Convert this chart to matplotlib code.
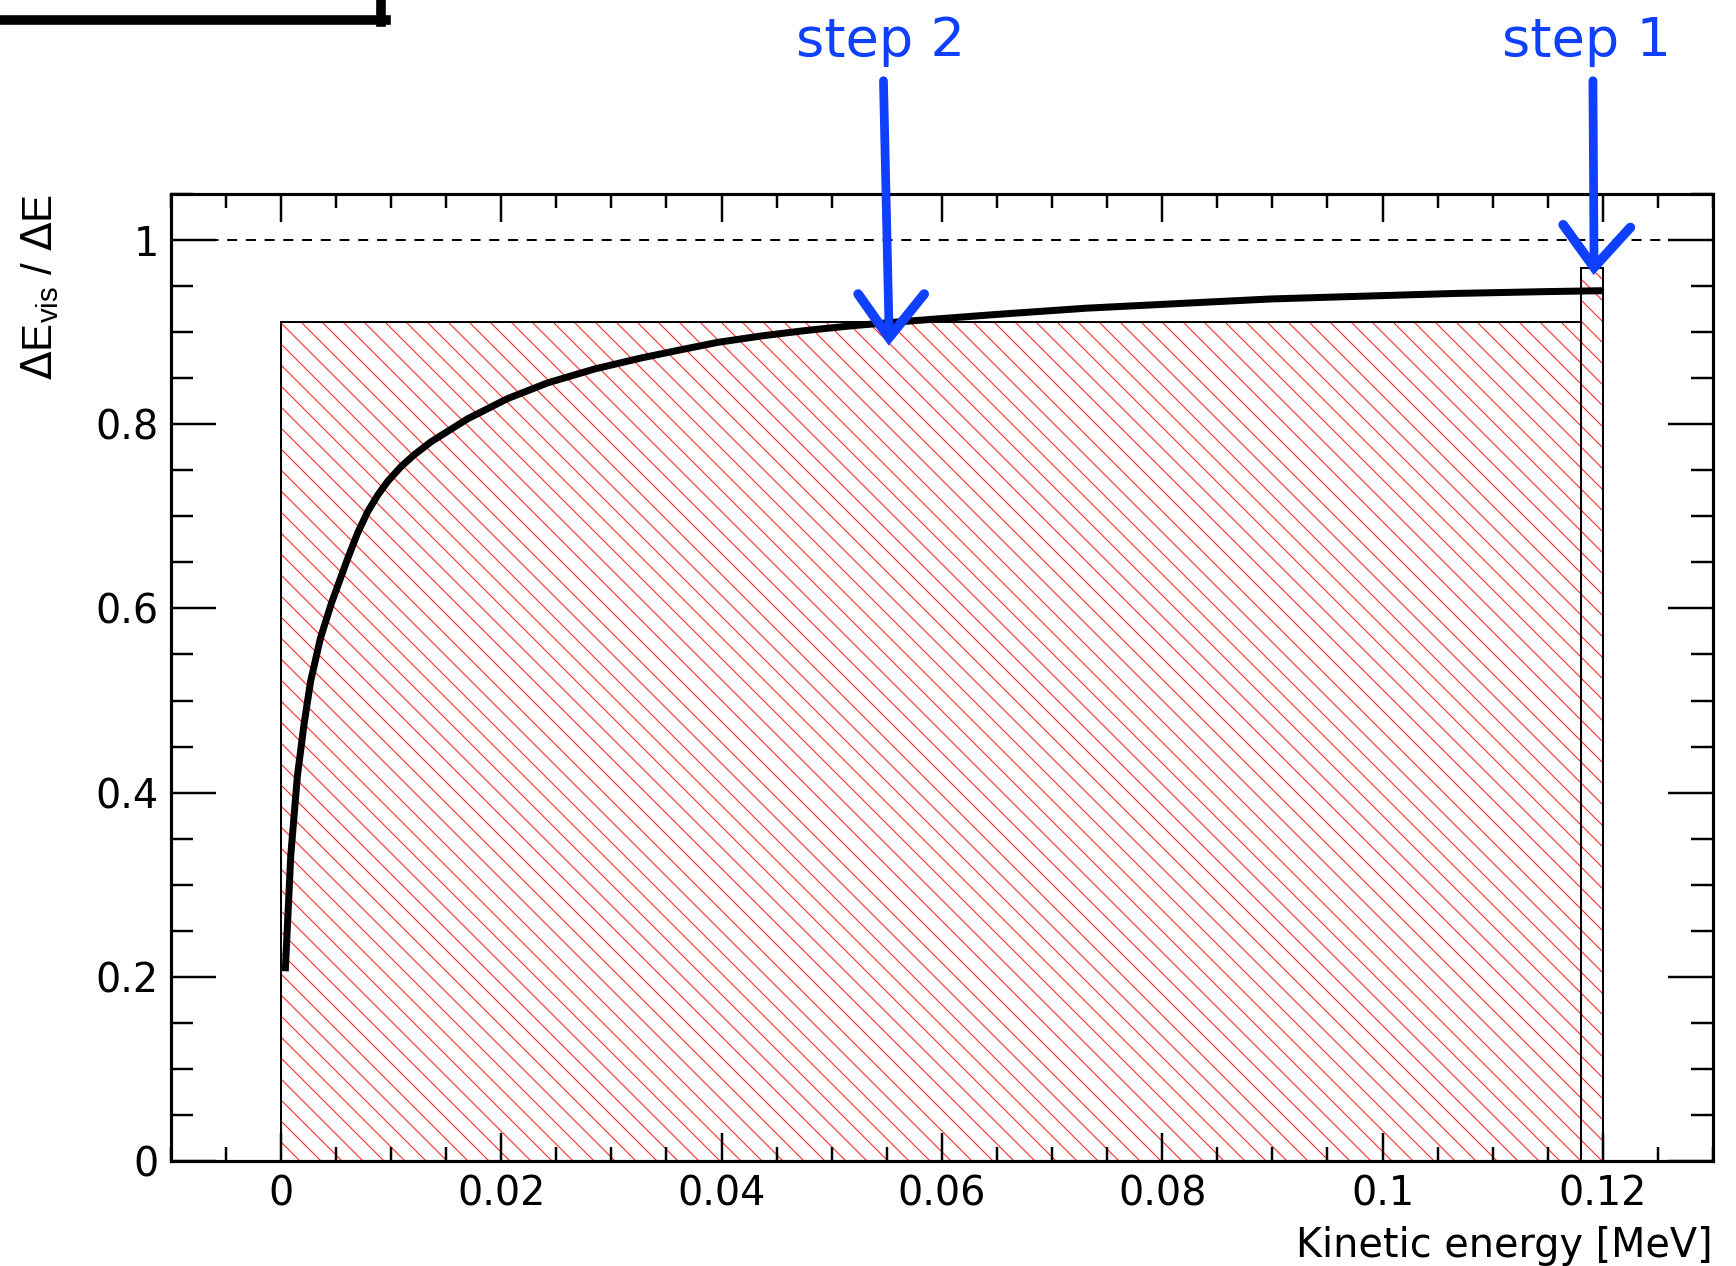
import matplotlib
matplotlib.use("Agg")
import matplotlib.pyplot as plt
from matplotlib.ticker import MultipleLocator, FuncFormatter
from matplotlib.lines import Line2D

# ---------------- data ----------------
bin_left = [0.0, 0.118]
bin_width = [0.118, 0.002]
bin_height = [0.9106, 0.9692]

curve_x = [0.0004, 0.0009, 0.0015, 0.0021, 0.0027, 0.0036, 0.0046, 0.00545, 0.00606,
           0.00697, 0.00788, 0.00879, 0.0097, 0.01091, 0.01212, 0.01364, 0.01697,
           0.02061, 0.02424, 0.02848, 0.03273, 0.03636, 0.0397, 0.0437, 0.0478,
           0.0519, 0.0559, 0.0647, 0.0731, 0.0814, 0.0898, 0.0981, 0.1065, 0.1148,
           0.1200]
curve_y = [0.206, 0.332, 0.418, 0.474, 0.521, 0.568, 0.606, 0.634, 0.654,
           0.682, 0.705, 0.723, 0.738, 0.754, 0.767, 0.781, 0.806,
           0.828, 0.845, 0.860, 0.872, 0.881, 0.889, 0.896, 0.902,
           0.907, 0.911, 0.919, 0.926, 0.931, 0.936, 0.939, 0.942, 0.944,
           0.945]

step_labels = ["step 2", "step 1"]

# ---------------- style ----------------
DPI = 126
plt.rcParams['font.family'] = ['DejaVu Sans']
plt.rcParams['hatch.linewidth'] = 0.6
plt.rcParams['lines.scale_dashes'] = False

fig = plt.figure(figsize=(1736 / DPI, 1266 / DPI), dpi=DPI)
ax = fig.add_axes([170.7 / 1736, 105 / 1266, (1713 - 170.7) / 1736, (1161 - 194) / 1266])
ax.set_xlim(-0.01, 0.13)
ax.set_ylim(0, 1.05)

# hatched histogram
ax.bar(bin_left, bin_height, width=bin_width, align='edge', facecolor='none',
       edgecolor='#ff2020', linewidth=0, hatch='\\\\', zorder=1)
ax.bar(bin_left, bin_height, width=bin_width, align='edge', fill=False,
       edgecolor='black', linewidth=1.15, zorder=2)

# dashed line at 1
ax.axhline(1.0, color='black', linewidth=1.15, dashes=(5.7, 5.0), zorder=2)

# curve
ax.plot(curve_x, curve_y, color='black', linewidth=4.0, solid_capstyle='butt',
        solid_joinstyle='round', zorder=3)

# ticks
ax.xaxis.set_major_locator(MultipleLocator(0.02))
ax.xaxis.set_minor_locator(MultipleLocator(0.005))
ax.yaxis.set_major_locator(MultipleLocator(0.2))
ax.yaxis.set_minor_locator(MultipleLocator(0.05))
fmt = FuncFormatter(lambda v, p: ("%g" % round(v, 6)))
ax.xaxis.set_major_formatter(fmt)
ax.yaxis.set_major_formatter(fmt)

for s in ax.spines.values():
    s.set_linewidth(1.8)
    s.set_zorder(5)
ax.tick_params(axis='x', which='major', direction='in', length=16, width=1.4,
               top=True, bottom=True, labelsize=22.7, pad=8)
ax.tick_params(axis='x', which='minor', direction='in', length=8, width=1.4,
               top=True, bottom=True)
ax.tick_params(axis='y', which='major', direction='in', length=25.7, width=1.4,
               left=True, right=True, labelsize=22.7, pad=7)
ax.tick_params(axis='y', which='minor', direction='in', length=12.6, width=1.4,
               left=True, right=True)

# axis titles
ax.text(1.0, -0.0993, "Kinetic energy [MeV]", transform=ax.transAxes,
        ha='right', va='baseline', fontsize=22.7)
ax.text(-0.0847, 1.0, r"$\Delta$E$_{\mathregular{vis}}$ / $\Delta$E", transform=ax.transAxes,
        ha='center', va='top', rotation=90, fontsize=24,
        family=['Liberation Sans', 'DejaVu Sans'])

# ---------------- annotations (hand-drawn style arrows) ----------------
blue = '#1040ff'
ann = [
    # label, text x, shaft top, tip, left wing, right wing
    (step_labels[0], 0.05445, (0.0547, 1.173), (0.0552, 0.894), (0.0524, 0.9414), (0.0584, 0.9414)),
    (step_labels[1], 0.11855, (0.1191, 1.173), (0.1192, 0.9703), (0.1164, 1.0166), (0.1225, 1.0137)),
]
for lab, tx, top, tip, lw_, rw_ in ann:
    ax.text(tx, 1.2, lab, color=blue, fontsize=31, ha='center', va='baseline', clip_on=False)
    ax.plot([top[0], tip[0]], [top[1], tip[1] + 0.012], color=blue, linewidth=5.0,
            solid_capstyle='round', clip_on=False, zorder=6)
    ax.plot([lw_[0], tip[0], rw_[0]], [lw_[1], tip[1], rw_[1]], color=blue, linewidth=5.5,
            solid_capstyle='round', solid_joinstyle='miter', clip_on=False, zorder=6)

# partial hand-drawn box at top-left corner of the figure
H = 1266.0
fig.add_artist(Line2D([0, 386 / 1736], [1 - 20 / H, 1 - 20 / H], color='black',
                      linewidth=5.5, transform=fig.transFigure))
fig.add_artist(Line2D([381 / 1736, 381 / 1736], [1.0, 1 - 22 / H], color='black',
                      linewidth=5.5, transform=fig.transFigure))

fig.savefig("out.png", dpi=DPI)
